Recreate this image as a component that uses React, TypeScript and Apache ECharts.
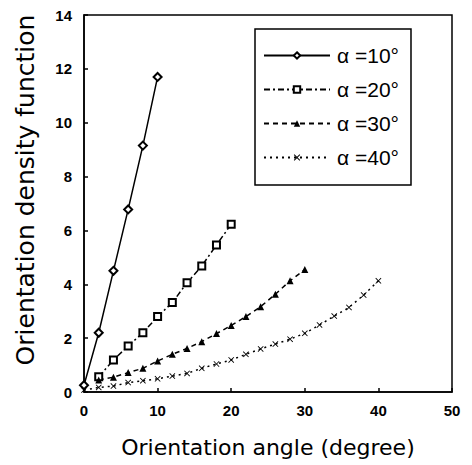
import React, { useEffect, useRef } from "react";
import * as echarts from "echarts";

const xTicks = [0, 10, 20, 30, 40, 50];
const yTicks = [0, 2, 4, 6, 8, 10, 12, 14];

const x10 = [0, 2, 4, 6, 8, 10];
const y10 = [0.25, 2.2, 4.5, 6.78, 9.15, 11.7];

const x20 = [2, 4, 6, 8, 10, 12, 14, 16, 18, 20];
const y20 = [0.57, 1.19, 1.71, 2.2, 2.8, 3.32, 4.06, 4.68, 5.46, 6.23];

const x30 = [2, 4, 6, 8, 10, 12, 14, 16, 18, 20, 22, 24, 26, 28, 30];
const y30 = [0.45, 0.55, 0.72, 0.88, 1.15, 1.4, 1.62, 1.87, 2.17, 2.47, 2.8, 3.17, 3.63, 4.13, 4.55];

const x40 = [0, 2, 4, 6, 8, 10, 12, 14, 16, 18, 20, 22, 24, 26, 28, 30, 32, 34, 36, 38, 40];
const y40 = [0.07, 0.17, 0.22, 0.35, 0.42, 0.49, 0.59, 0.69, 0.88, 1.04, 1.19, 1.4, 1.6, 1.78, 1.96, 2.18, 2.49, 2.82, 3.14, 3.6, 4.13];

const names = ["α =10°", "α =20°", "α =30°", "α =40°"];

const zip = (xs: number[], ys: number[]) => xs.map((x, i) => [x, ys[i]]);

const X_SYMBOL = "path://M0,1L1,0L5,4L9,0L10,1L6,5L10,9L9,10L5,6L1,10L0,9L4,5Z";

export default function App() {
  const ref = useRef<HTMLDivElement>(null);
  useEffect(() => {
    if (!ref.current) return;
    const chart = echarts.init(ref.current, undefined, { renderer: "svg" });
    const labelFont = { color: "#000", fontFamily: "Liberation Sans", fontWeight: "bold" as const, fontSize: 15 };
    chart.setOption({
      animation: false,
      backgroundColor: "#fff",
      grid: {
        left: 84,
        right: 20,
        top: 15,
        bottom: 73,
        show: true,
        borderColor: "#000",
        borderWidth: 1.5,
        backgroundColor: "transparent",
      },
      xAxis: {
        type: "value",
        min: 0,
        max: 50,
        interval: 10,
        name: "Orientation angle (degree)",
        nameLocation: "middle",
        nameGap: 44,
        nameTextStyle: { color: "#000", fontFamily: "DejaVu Sans", fontSize: 22 },
        axisLine: { show: true, lineStyle: { color: "#000", width: 1.5 } },
        axisTick: { show: true, inside: true, length: 4, lineStyle: { color: "#000", width: 1.5 } },
        axisLabel: { ...labelFont, margin: 11, formatter: (v: number) => (xTicks.includes(v) ? String(v) : "") },
        splitLine: { show: false },
      },
      yAxis: {
        type: "value",
        min: 0,
        max: 14,
        interval: 2,
        axisLine: { show: true, lineStyle: { color: "#000", width: 1.5 } },
        axisTick: { show: true, inside: true, length: 4, lineStyle: { color: "#000", width: 1.5 } },
        axisLabel: { ...labelFont, margin: 12, formatter: (v: number) => (yTicks.includes(v) ? String(v) : "") },
        splitLine: { show: false },
      },
      legend: {
        orient: "vertical",
        left: 255,
        top: 29,
        width: 193,
        padding: [16, 12, 17, 8],
        itemWidth: 66,
        itemHeight: 8,
        itemGap: 13,
        borderColor: "#000",
        borderWidth: 1.5,
        backgroundColor: "#fff",
        textStyle: { color: "#000", fontFamily: "Liberation Sans", fontSize: 21, padding: [0, 0, 0, 2] },
        data: names,
      },
      graphic: [
        {
          type: "text",
          x: 25,
          y: 190,
          rotation: Math.PI / 2,
          style: {
            text: "Orientation density function",
            fill: "#000",
            font: "25px 'DejaVu Sans'",
            align: "center",
            verticalAlign: "middle",
          },
        },
      ],
      series: [
        {
          name: names[0],
          type: "line",
          data: zip(x10, y10),
          symbol: "emptyDiamond",
          symbolSize: 8,
          lineStyle: { color: "#000", width: 1.5, type: "solid" },
          itemStyle: { color: "#000", borderWidth: 1.5 },
        },
        {
          name: names[1],
          type: "line",
          data: zip(x20, y20),
          symbol: "emptyRect",
          symbolSize: 7,
          lineStyle: { color: "#000", width: 1.5, type: [6, 3, 2, 3] },
          itemStyle: { color: "#000", borderWidth: 1.8 },
        },
        {
          name: names[2],
          type: "line",
          data: zip(x30, y30),
          symbol: "triangle",
          symbolSize: 7,
          lineStyle: { color: "#000", width: 1.5, type: [5, 4] },
          itemStyle: { color: "#000" },
        },
        {
          name: names[3],
          type: "line",
          data: zip(x40, y40),
          symbol: X_SYMBOL,
          symbolSize: 6,
          lineStyle: { color: "#000", width: 1.5, type: [2, 4] },
          itemStyle: { color: "#000" },
        },
      ],
    });
    return () => chart.dispose();
  }, []);
  return (
    <div
      ref={ref}
      style={{ position: "fixed", left: 0, top: 0, width: 472, height: 465, background: "#fff" }}
    />
  );
}
